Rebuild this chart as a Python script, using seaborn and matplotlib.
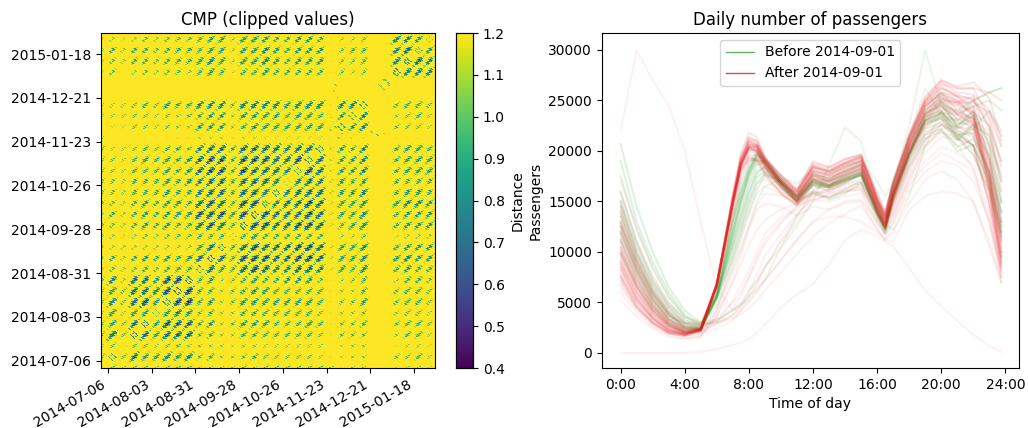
import numpy as np
import pandas as pd
import matplotlib
matplotlib.use("Agg")
import matplotlib.pyplot as plt
from matplotlib.lines import Line2D
import seaborn as sns

# ---------- left panel: values ----------
START_DATE = "2014-07-02"
N_DAYS = 214
TICK_DATES = ["2014-07-06", "2014-08-03", "2014-08-31", "2014-09-28",
              "2014-10-26", "2014-11-23", "2014-12-21", "2015-01-18"]
# strength 0-9 of each weekly blob; one row per week, upper triangle only
WEEK_STRENGTH = [
    "64866767 453345444443 123300 4453",
    "3443443 333233333333 023300 1332",
    "886888 453355555554 144400 3553",
    "86988 563466655565 144500 4554",
    "5676 453355555554 133400 3443",
    "799 563466666665 144600 4554",
    "89 553456655555 133500 4554",
    "8 563456556664 134500 3554",
    "686589877887 265700 5655",
    "98599988998 266700 6766",
    "7589888998 266700 5666",
    "456555555 133400 2333",
    "89988998 256700 5666",
    "8988898 266700 5666",
    "778898 266700 6776",
    "77888 266700 5665",
    "4787 265600 5555",
    "698 266700 5666",
    "78 266700 5666",
    "7 265700 5665",
    "010100 1111",
    "66700 4443",
    "5700 3453",
    "600 4554",
    "00 0000",
    "0 0000",
    "8777",
    "887",
    "66",
    "5",
]
EDGE_WEEK = "43443444 333343444444 313300 2332"
# distance inside one 7x7 weekly blob at full strength
BLOB = [
    [0.86, 1.35, 1.60, 1.75, 1.80, 1.80, 1.55],
    [1.35, 0.70, 0.84, 1.15, 1.45, 1.70, 1.80],
    [1.60, 0.84, 0.54, 0.72, 1.02, 1.35, 1.70],
    [1.75, 1.15, 0.72, 0.44, 0.68, 1.02, 1.45],
    [1.80, 1.45, 1.02, 0.68, 0.48, 0.80, 1.15],
    [1.80, 1.70, 1.35, 1.02, 0.80, 0.66, 1.35],
    [1.55, 1.80, 1.70, 1.45, 1.15, 1.35, 0.86],
]
# the same-week tile: excluded diagonal surrounded by a small ring
RING = [
    [1.40, 1.40, 1.40, 1.40, 1.40, 1.40, 1.40],
    [1.40, 1.40, 1.40, 0.62, 1.40, 1.40, 1.40],
    [1.40, 1.40, 0.80, 1.40, 0.80, 1.40, 1.40],
    [1.40, 0.62, 1.40, 1.40, 1.40, 0.62, 1.40],
    [1.40, 1.40, 0.80, 1.40, 0.80, 1.40, 1.40],
    [1.40, 1.40, 1.40, 0.62, 1.40, 1.40, 1.40],
    [1.40, 1.40, 1.40, 1.40, 1.40, 1.40, 1.40],
]
STRENGTH_STEP = 0.09
# isolated specks around the holiday weeks: (day, day, distance)
SPECKS = [(179, 180, 1.02), (182, 184, 0.98), (184, 181, 1.05), (181, 178, 1.0),
          (147, 152, 1.05), (154, 150, 1.0), (149, 177, 1.0), (150, 181, 1.05),
          (151, 173, 1.05), (160, 147, 1.05)]
VMIN, VMAX = 0.4, 1.2

# ---------- right panel: values, in hundreds ----------
HOURS = [0, 1, 2, 3, 4, 5, 6, 7, 7.5, 8, 8.5, 9, 10, 11, 12, 13, 14, 15, 16, 16.5, 17, 18, 19, 20, 21, 22, 23, 23.75]
BEFORE_LABEL = "Before 2014-09-01"
AFTER_LABEL = "After 2014-09-01"
BEFORE = [
    [207,145,100,65,42,30,60,132,160,182,196,188,170,153,170,166,172,178,140,124,158,198,232,248,224,240,205,150],
    [190,130,90,60,38,28,58,110,136,160,180,184,166,150,166,162,170,176,138,122,155,196,230,238,214,226,215,170],
    [175,122,85,56,36,27,57,122,152,176,192,186,168,152,172,168,174,180,142,126,160,200,236,250,230,238,225,190],
    [160,110,76,50,33,26,56,104,128,152,174,180,165,150,168,164,170,177,139,124,157,196,228,232,212,222,240,220],
    [150,100,68,45,30,25,55,116,146,172,190,190,172,156,174,170,176,182,146,130,164,205,240,254,236,244,250,240],
    [140,95,62,40,27,24,54,98,122,146,168,178,170,154,170,166,173,179,140,124,156,198,234,240,218,205,170,125],
    [130,88,58,36,25,24,56,126,156,180,196,190,168,150,160,154,162,170,136,120,150,190,216,222,204,212,180,140],
    [120,82,52,33,24,23,55,112,140,166,186,190,172,155,172,170,176,183,144,128,162,202,236,246,226,235,195,148],
    [112,76,48,30,22,23,56,130,158,182,198,190,168,152,168,165,171,176,138,122,154,194,222,228,210,226,175,118],
    [105,70,44,28,21,23,58,136,164,186,200,192,170,154,170,166,172,178,140,126,158,198,230,236,216,218,180,130],
    [125,84,54,34,24,24,54,92,116,140,162,176,170,156,176,174,180,186,150,134,168,210,244,258,240,250,258,262],
    [135,92,60,38,26,25,58,120,150,176,194,188,166,148,158,152,158,168,134,118,150,186,212,220,200,206,165,120],
    [98,66,42,27,20,23,56,118,150,178,196,192,170,152,168,164,170,176,140,124,156,196,226,238,222,232,190,138],
    [145,100,66,42,29,25,55,106,132,158,178,184,168,150,166,164,170,176,138,122,156,196,228,234,214,196,160,115],
]
AFTER = [
    [90,58,36,23,19,23,68,150,187,203,200,187,168,155,178,172,180,187,145,128,158,205,238,250,236,226,170,105],
    [125,82,52,32,22,24,68,152,190,212,210,192,176,162,190,184,192,197,152,132,162,212,248,262,254,252,205,130],
    [138,92,60,38,25,25,70,146,182,196,196,184,164,150,170,164,172,180,142,126,156,200,230,238,224,216,160,92],
    [110,72,46,29,21,24,69,151,189,206,206,192,174,160,186,180,188,194,152,134,164,214,252,270,262,262,232,185],
    [102,66,42,27,20,23,68,144,180,192,190,178,158,146,166,160,168,178,138,124,152,196,226,232,212,206,150,85],
    [84,54,34,22,18,23,67,148,186,202,200,186,166,152,176,170,178,184,142,124,154,198,234,246,240,232,178,115],
    [78,50,32,21,18,22,66,154,192,210,206,188,168,154,180,176,184,190,148,130,160,208,244,258,254,244,190,120],
    [72,46,30,20,18,22,66,147,184,200,198,184,164,150,174,170,178,186,146,128,158,202,230,240,228,226,168,95],
    [95,62,40,25,19,23,68,150,188,204,204,192,172,158,184,178,186,192,150,132,160,208,242,254,246,238,180,110],
    [118,78,48,30,21,23,68,158,198,218,214,194,170,154,176,170,178,186,144,126,156,204,240,252,248,254,222,160],
    [105,68,44,28,20,23,67,150,188,206,204,190,168,152,172,166,176,182,142,126,158,204,238,244,232,222,172,100],
    [88,56,36,23,19,23,68,152,192,212,208,194,174,160,184,180,188,195,154,136,166,210,244,256,250,238,170,96],
    [130,88,56,34,24,24,68,150,186,202,200,186,170,156,178,174,182,188,148,132,164,208,246,262,256,250,225,170],
    [120,80,50,31,22,24,68,150,186,204,202,190,172,156,180,176,184,190,150,134,166,212,250,268,258,256,240,205],
    [98,64,40,26,20,23,68,152,190,206,204,188,168,154,178,172,180,186,146,130,158,206,236,248,238,244,195,125],
    [82,52,34,22,18,22,66,156,196,214,210,192,176,162,188,184,192,196,156,138,168,214,250,264,254,240,165,90],
    [76,48,30,20,18,22,67,150,186,204,202,188,170,158,182,178,186,192,152,134,162,206,240,252,244,228,160,88],
    [92,60,38,24,19,23,69,154,192,210,206,190,168,152,176,172,180,188,146,128,156,202,224,234,220,214,178,112],
    [112,74,46,29,21,24,70,154,192,208,204,188,166,150,172,168,176,184,144,126,154,198,232,242,236,228,185,128],
    [145,98,64,40,26,25,66,140,176,194,192,180,162,148,170,166,174,180,140,124,154,198,236,250,248,248,238,215],
    [68,44,28,19,17,22,65,146,182,194,190,176,158,146,168,164,172,178,138,122,150,192,218,226,216,206,145,75],
    [100,66,42,27,20,24,68,150,186,204,200,184,164,150,172,166,174,182,142,124,152,196,230,244,238,232,190,140],
    [158,110,72,46,30,28,64,132,170,190,192,182,168,156,180,176,184,190,152,136,170,216,250,266,262,262,258,250],
    [85,54,34,22,19,23,66,146,184,202,200,188,170,158,184,180,188,194,154,138,168,212,246,256,248,236,176,100],
    [74,46,30,20,17,22,66,148,186,204,204,190,172,160,186,182,190,196,158,140,168,214,248,258,250,234,162,82],
    [128,86,54,33,23,24,68,150,188,208,206,194,176,160,184,180,188,194,152,136,170,216,254,270,264,268,252,210],
]
BEFORE_PALE = [
    [120,84,56,38,28,27,32,42,50,62,72,86,104,126,150,186,223,210,150,128,122,155,205,240,222,205,175,120],
    [150,105,72,48,35,30,33,42,48,56,64,72,105,135,160,172,182,190,170,155,168,225,300,245,225,235,215,150],
    [115,80,52,36,30,30,46,84,105,126,150,165,172,168,180,178,186,190,160,140,170,215,262,235,230,250,258,262],
]
AFTER_PALE = [
    [220,300,270,245,200,130,65,42,48,52,62,72,92,112,130,135,135,130,120,112,110,142,155,160,158,150,105,70],
    [0,0,0,0,0,1,4,8,10,14,20,28,45,58,68,88,112,122,116,110,106,84,62,46,32,18,7,1],
    [150,105,70,48,32,28,30,36,42,50,60,72,92,112,130,142,150,152,130,118,128,160,180,190,186,170,130,80],
    [170,125,82,55,36,30,30,34,38,44,52,62,80,98,116,128,138,146,124,112,120,148,172,180,172,150,110,70],
    [125,88,58,38,26,24,28,38,46,58,70,84,110,130,150,158,162,165,140,128,145,180,210,226,224,220,195,160],
    [100,70,46,30,22,20,24,32,42,54,68,84,112,136,155,162,166,168,145,132,150,192,222,238,236,232,210,175],
    [60,40,26,18,14,16,36,72,96,122,142,148,145,136,145,142,148,150,122,112,130,165,185,198,190,180,130,70],
    [140,96,62,42,30,28,32,44,56,74,92,108,128,144,158,162,168,170,146,130,146,186,216,230,232,228,220,190],
    [110,74,48,32,24,22,42,88,112,136,158,165,158,146,152,150,155,158,128,118,136,172,205,218,214,200,150,95],
    [135,92,60,40,28,26,30,38,46,60,78,96,118,138,152,156,160,162,138,126,140,176,204,222,224,222,205,178],
    [88,60,38,26,20,20,30,52,66,82,100,118,134,142,156,154,160,164,134,122,138,172,198,214,212,196,160,110],
    [76,52,34,24,18,18,36,70,88,106,122,132,142,148,160,158,164,168,136,124,142,182,212,226,218,204,150,88],
    [128,90,58,38,24,24,34,50,60,76,94,112,130,146,162,166,172,176,150,136,152,196,232,248,246,250,232,205],
    [64,44,30,20,16,18,44,96,122,150,168,172,160,150,158,154,160,162,130,118,134,168,190,204,198,186,138,76],
    [52,36,24,16,14,16,40,80,100,124,146,158,156,148,158,160,168,172,142,128,146,184,206,220,206,182,128,84],
]
TITLE_LEFT = "CMP (clipped values)"
TITLE_RIGHT = "Daily number of passengers"
COLOR_BEFORE = "#2ca02c"
COLOR_AFTER = "#e41a1c"


def build_matrix():
    n_weeks = len(WEEK_STRENGTH)
    rows = np.full((n_weeks, n_weeks), 0, dtype=int)
    for i, row in enumerate(WEEK_STRENGTH):
        digits = row.replace(" ", "")
        for off, ch in enumerate(digits):
            rows[i, i + off] = int(ch)
            rows[i + off, i] = int(ch)
    edge = [int(c) for c in EDGE_WEEK.replace(" ", "")]
    blob, ring = np.array(BLOB), np.array(RING)
    mat = np.full((N_DAYS, N_DAYS), VMAX + 0.2)

    def place(i0, j0, tile):
        for a in range(7):
            for b in range(7):
                r, c = i0 + a, j0 + b
                if 0 <= r < N_DAYS and 0 <= c < N_DAYS:
                    mat[r, c] = tile[a, b]

    for i in range(n_weeks):
        for j in range(n_weeks):
            s = rows[i, j]
            base = ring if i == j else blob
            place(4 + 7 * i, 4 + 7 * j, base + (9 - s) * STRENGTH_STEP)
        place(-3, 4 + 7 * i, blob + (9 - edge[i]) * STRENGTH_STEP)
        place(4 + 7 * i, -3, blob + (9 - edge[i]) * STRENGTH_STEP)
    for a, b, v in SPECKS:
        mat[a, b] = v
        mat[b, a] = v
    return np.clip(mat, VMIN, VMAX)


W, H = 1028, 428
plt.rcParams.update({"font.size": 10, "axes.titlesize": 12, "axes.labelsize": 10})
fig = plt.figure(figsize=(W / 100, H / 100), dpi=100)


def box(x0, y0, x1, y1):
    return [x0 / W, 1 - y1 / H, (x1 - x0) / W, (y1 - y0) / H]


ax1 = fig.add_axes(box(101, 33, 435, 367.7))
cax = fig.add_axes(box(456, 33, 473, 368))
ax2 = fig.add_axes(box(601.7, 33, 1019, 368))

days = pd.date_range(START_DATE, periods=N_DAYS)
sns.heatmap(build_matrix(), ax=ax1, cbar_ax=cax, vmin=VMIN, vmax=VMAX, cmap="viridis",
            cbar_kws={"label": "Distance"}, xticklabels=False, yticklabels=False, square=False)
mesh = ax1.collections[0]
mesh.set_antialiased(True)
mesh.set_edgecolor("face")
mesh.set_linewidth(0.3)
ax1.set_ylim(0, N_DAYS)
ax1.set_xlim(0, N_DAYS)
pos = [days.get_loc(pd.Timestamp(d)) + 0.5 for d in TICK_DATES]
ax1.set_xticks(pos)
ax1.set_xticklabels(TICK_DATES, rotation=30, ha="right")
ax1.set_yticks(pos)
ax1.set_yticklabels(TICK_DATES, rotation=0)
ax1.set_title(TITLE_LEFT)
for sp in ax1.spines.values():
    sp.set_visible(True)
    sp.set_linewidth(0.8)
cax.yaxis.set_ticks(np.arange(0.4, 1.21, 0.1))
cax.tick_params(labelsize=10, width=0.8, length=3.5)
for sp in cax.spines.values():
    sp.set_visible(True)
    sp.set_linewidth(0.8)
cax.yaxis.label.set_size(10)


def lines_frame(curves, group):
    frames = []
    for uid, curve in enumerate(curves):
        frames.append(pd.DataFrame({"hour": HOURS, "passengers": np.array(curve) * 100.0,
                                    "unit": f"{group}{uid}"}))
    return pd.concat(frames, ignore_index=True)


for curves, color, alpha, tag in [(BEFORE_PALE, COLOR_BEFORE, 0.09, "bp"),
                                  (BEFORE, COLOR_BEFORE, 0.14, "b"),
                                  (AFTER_PALE, COLOR_AFTER, 0.06, "ap"),
                                  (AFTER, COLOR_AFTER, 0.11, "a")]:
    sns.lineplot(data=lines_frame(curves, tag), x="hour", y="passengers", units="unit",
                 estimator=None, color=color, alpha=alpha, lw=1.5, ax=ax2, legend=False)
ax2.set_xlim(-1.18, 24.85)
ax2.set_ylim(-1485, 31680)
ax2.set_xticks(np.arange(0, 25, 4))
ax2.set_xticklabels([f"{h}:00" for h in range(0, 25, 4)])
ax2.set_yticks(np.arange(0, 30001, 5000))
ax2.set_xlabel("Time of day")
ax2.set_ylabel("Passengers")
ax2.set_title(TITLE_RIGHT)
handles = [Line2D([], [], color=COLOR_BEFORE, alpha=0.75, lw=1.0, label=BEFORE_LABEL),
           Line2D([], [], color=COLOR_AFTER, alpha=0.8, lw=1.0, label=AFTER_LABEL)]
ax2.legend(handles=handles, loc="upper center")
fig.savefig("out.png", dpi=100)
